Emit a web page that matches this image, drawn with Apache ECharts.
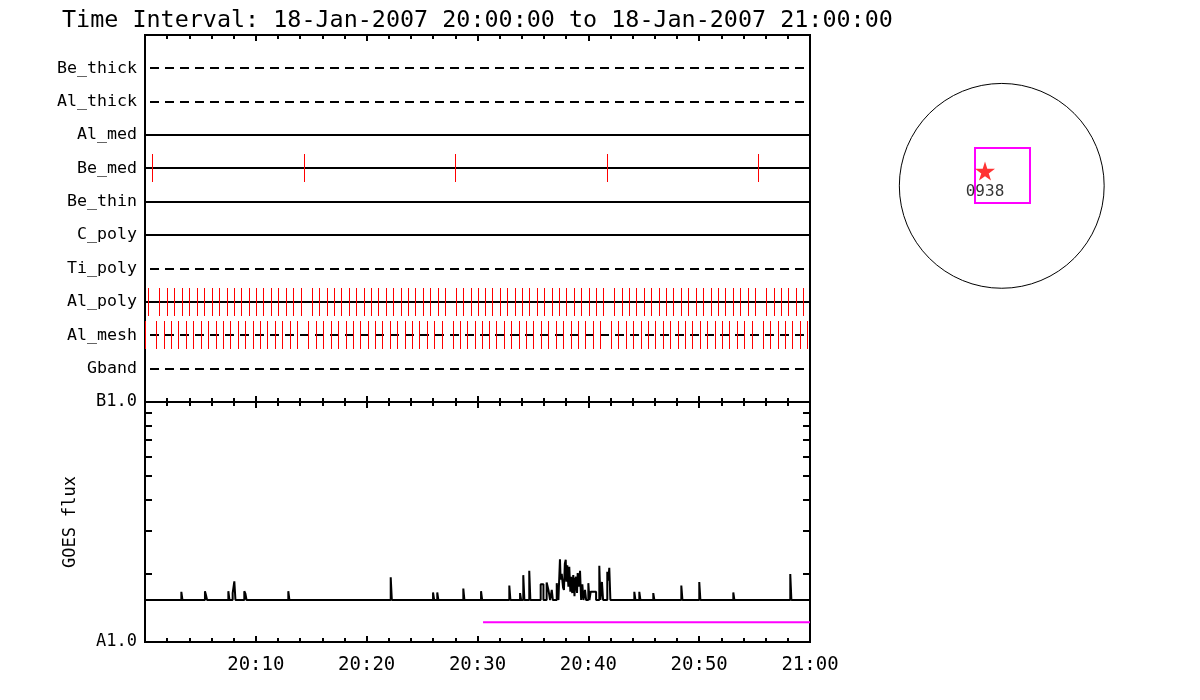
<!DOCTYPE html>
<html><head><meta charset="utf-8">
<script src="https://cdn.jsdelivr.net/npm/echarts@6/dist/echarts.min.js"></script>
<style>html,body{margin:0;padding:0;background:#fff}#c{width:1200px;height:700px}</style>
</head><body><div id="c"></div>
<script>
// ---------------- data ----------------
const titleText = 'Time Interval: 18-Jan-2007 20:00:00 to 18-Jan-2007 21:00:00';
const rowNames = ['Be_thick','Al_thick','Al_med','Be_med','Be_thin','C_poly','Ti_poly','Al_poly','Al_mesh','Gband'];
const rowDashed = [true,true,false,false,false,false,true,false,true,true];
// minutes after 20:00
const beMedTimes = [0.63,14.35,27.97,41.68,55.31];
const alPolyTimes = [0.30,1.29,2.01,2.64,3.31,4.00,4.66,5.35,6.02,6.68,7.37,8.00,8.66,9.35,10.02,10.67,11.34,12.00,12.70,13.35,14.05,
  15.04,15.70,16.39,17.05,17.71,18.41,19.07,19.73,20.39,21.05,21.72,22.40,23.07,23.73,24.39,25.06,25.72,26.41,27.07,
  28.07,28.73,29.39,30.07,30.68,31.34,32.00,32.69,33.36,34.02,34.67,35.34,36.00,36.70,37.35,38.01,38.71,39.37,40.03,40.69,41.35,
  42.34,43.01,43.67,44.33,45.02,45.68,46.35,47.01,47.67,48.36,49.02,49.69,50.37,51.04,51.70,52.36,53.03,53.71,54.38,55.07,
  56.06,56.73,57.38,58.04,58.71,59.40];
const alMeshTimes = [0.00,0.99,1.71,2.34,3.01,3.70,4.36,5.05,5.72,6.38,7.07,7.70,8.36,9.05,9.72,10.37,11.04,11.70,12.40,13.05,13.75,
  14.74,15.40,16.09,16.75,17.41,18.11,18.77,19.43,20.09,20.75,21.42,22.10,22.77,23.43,24.09,24.76,25.42,26.11,26.77,
  27.77,28.43,29.09,29.77,30.38,31.04,31.70,32.39,33.06,33.72,34.37,35.04,35.70,36.40,37.05,37.71,38.41,39.07,39.73,40.39,41.05,
  42.04,42.71,43.37,44.03,44.72,45.38,46.05,46.71,47.37,48.06,48.72,49.39,50.07,50.74,51.40,52.06,52.73,53.41,54.08,54.77,
  55.76,56.43,57.08,57.74,58.41,59.10,59.70];
const xTickValues = [0,10,20,30,40,50,60];
const xTickLabels = ['','20:10','20:20','20:30','20:40','20:50','21:00'];
const goesAxisMin = 1.058e-7;
const goesAxisMax = 1e-6;
const goesTickValues = [goesAxisMin, goesAxisMax];
const goesTickLabels = ['A1.0','B1.0'];
const goesMinorTicks = [2e-7,3e-7,4e-7,5e-7,6e-7,7e-7,8e-7,9e-7];
// GOES flux samples (W/m^2), each value holds until the next sample
const goesTime = [0,
  3.28,3.38, 5.41,5.50,5.60, 7.52,7.62, 7.91,8.06,8.16, 8.96,9.06,9.16, 12.93,13.03,
  22.17,22.27, 25.99,26.09, 26.37,26.47, 28.72,28.82, 30.32,30.42, 32.87,32.97,
  33.84,33.94, 34.13,34.23, 34.67,34.77,
  35.70,35.95, 36.24,36.40,36.55, 36.70,36.80, 37.15,37.30,
  37.44,37.50,37.55,37.60,37.65,37.72,37.80,37.88,37.96,38.02,38.05,38.10,38.15,38.20,38.28,38.33,38.38,38.44,38.50,38.55,38.64,38.70,38.75,38.82,38.89,38.94,38.98,39.04,39.10,39.15,39.25,39.35,
  39.46,39.56, 39.70,39.80, 40.00,40.10, 40.21,40.70, 40.99,41.09, 41.23,41.33, 41.71,41.80,41.89,41.99,
  44.15,44.25, 44.60,44.70, 45.86,45.96, 48.39,48.49, 50.01,50.11, 53.08,53.18, 58.22,58.32, 60];
const goesFlux = [1.567e-7,
  1.693e-7,1.567e-7, 1.702e-7,1.642e-7,1.567e-7, 1.702e-7,1.567e-7, 1.673e-7,1.867e-7,1.567e-7, 1.702e-7,1.662e-7,1.567e-7, 1.702e-7,1.567e-7,
  1.938e-7,1.567e-7, 1.682e-7,1.567e-7, 1.682e-7,1.567e-7, 1.745e-7,1.567e-7, 1.702e-7,1.567e-7, 1.796e-7,1.567e-7,
  1.673e-7,1.567e-7, 1.978e-7,1.567e-7, 2.059e-7,1.567e-7,
  1.815e-7,1.567e-7, 1.846e-7,1.723e-7,1.567e-7, 1.723e-7,1.567e-7, 1.835e-7,1.567e-7,
  2.294e-7,1.900e-7,1.877e-7,2.000e-7,2.019e-7,1.760e-7,1.723e-7,2.200e-7,2.283e-7,1.860e-7,1.826e-7,2.170e-7,1.950e-7,1.776e-7,2.140e-7,1.900e-7,1.693e-7,1.947e-7,1.760e-7,1.673e-7,1.978e-7,1.800e-7,1.623e-7,1.900e-7,1.947e-7,1.760e-7,1.673e-7,2.019e-7,1.850e-7,1.776e-7,2.059e-7,1.567e-7,
  1.815e-7,1.567e-7, 1.723e-7,1.567e-7, 1.835e-7,1.567e-7, 1.693e-7,1.567e-7, 2.160e-7,1.567e-7, 1.856e-7,1.567e-7, 2.040e-7,1.877e-7,2.120e-7,1.567e-7,
  1.693e-7,1.567e-7, 1.693e-7,1.567e-7, 1.673e-7,1.567e-7, 1.796e-7,1.567e-7, 1.856e-7,1.567e-7, 1.682e-7,1.567e-7, 1.998e-7,1.567e-7, 1.567e-7];
const pinkTime = [30.5, 60];
const pinkFlux = [1.274e-7, 1.274e-7];
// solar disk (arcsec)
const diskCenter = [0, 0];
const diskRadius = 960;
const fovBox = [-253, -164, 265, 351]; // x1, y1, x2, y2
const arPos = [-157, 139];
const arLabel = '0938';

// ---------------- chart ----------------
const FONT = 'DejaVu Sans Mono';
const yCats = [''].concat(rowNames.slice().reverse(), ['']);
const tickStyle = {color:'#000', width:2};

function xAx(grid, pos, labels){
  return {gridIndex:grid, type:'value', min:0, max:60, interval:10, position:pos,
    axisLine:{show:false},
    axisTick:{show:true, inside:true, length:6, lineStyle:tickStyle},
    minorTick:{show:true, splitNumber:5, length:4, lineStyle:tickStyle},
    splitLine:{show:false}, minorSplitLine:{show:false},
    axisLabel: labels ? {show:true, margin:14, color:'#000', fontFamily:FONT, fontSize:19,
      showMinLabel:true, showMaxLabel:true,
      formatter:v => { const i = xTickValues.indexOf(v); return i >= 0 ? xTickLabels[i] : ''; }} : {show:false}
  };
}

const series = [];
// filter rows (crisp 2px lines)
series.push({type:'custom', xAxisIndex:0, yAxisIndex:0, silent:true, z:2,
  data: rowNames.map((n, i) => [0, n, i]),
  renderItem:(params, api) => {
    const p = api.coord([0, api.value(1)]);
    const q = api.coord([60, api.value(1)]);
    const y = Math.round(p[1]);
    const dashed = rowDashed[api.value(2)];
    return {type:'line', shape:{x1:p[0], y1:y, x2:q[0], y2:y},
      style:{stroke:'#000', lineWidth:2, lineDash: dashed ? [9,6] : null, lineDashOffset: dashed ? -5 : 0}};
  }});
function tickSeries(times, name){
  return {type:'custom', xAxisIndex:0, yAxisIndex:0, silent:true, z:3,
    data: times.map(t => [t, name]),
    renderItem:(params, api) => {
      const p = api.coord([api.value(0), api.value(1)]);
      const x = Math.round(p[0]) + 0.5, y = Math.round(p[1]);
      return {type:'line', shape:{x1:x, y1:y-14, x2:x, y2:y+14}, style:{stroke:'#ff0000', lineWidth:1}};
    }};
}
series.push(tickSeries(beMedTimes, 'Be_med'));
series.push(tickSeries(alPolyTimes, 'Al_poly'));
series.push(tickSeries(alMeshTimes, 'Al_mesh'));

series.push({type:'line', xAxisIndex:2, yAxisIndex:1, step:'end', symbol:'none', silent:true,
  lineStyle:{color:'#000', width:2}, data: goesTime.map((t,i) => [t, goesFlux[i]])});
series.push({type:'line', xAxisIndex:2, yAxisIndex:1, symbol:'none', silent:true,
  lineStyle:{color:'#ff00ff', width:2}, data: pinkTime.map((t,i) => [t, pinkFlux[i]])});
series.push({type:'custom', xAxisIndex:2, yAxisIndex:1, silent:true,
  data: goesMinorTicks.map(v => [0, v]),
  renderItem:(params, api) => {
    const p = api.coord([api.value(0), api.value(1)]);
    const xl = params.coordSys.x, xr = xl + params.coordSys.width;
    const y = Math.round(p[1]);
    return {type:'group', children:[
      {type:'line', shape:{x1:xl, y1:y, x2:xl+7, y2:y}, style:{stroke:'#000', lineWidth:2}},
      {type:'line', shape:{x1:xr-7, y1:y, x2:xr, y2:y}, style:{stroke:'#000', lineWidth:2}}
    ]};
  }});

// disk
series.push({type:'custom', xAxisIndex:4, yAxisIndex:2, silent:true,
  data:[[diskCenter[0], diskCenter[1], diskRadius]],
  renderItem:(params, api) => {
    const c = api.coord([api.value(0), api.value(1)]);
    const r = api.size([api.value(2), 0])[0];
    return {type:'circle', shape:{cx:c[0], cy:c[1], r:r}, style:{fill:'none', stroke:'#000', lineWidth:1}};
  }});
series.push({type:'custom', xAxisIndex:4, yAxisIndex:2, silent:true,
  data:[fovBox],
  renderItem:(params, api) => {
    const a = api.coord([api.value(0), api.value(3)]);
    const b = api.coord([api.value(2), api.value(1)]);
    return {type:'rect', shape:{x:Math.round(a[0]), y:Math.round(a[1]), width:Math.round(b[0]-a[0]), height:Math.round(b[1]-a[1])},
      style:{fill:'none', stroke:'#ff00ff', lineWidth:2}};
  }});
series.push({type:'scatter', xAxisIndex:4, yAxisIndex:2, silent:true,
  symbol:'path://M50,0 L61,35 L98,35 L68,57 L79,91 L50,70 L21,91 L32,57 L2,35 L39,35 Z',
  symbolSize:[20,19], itemStyle:{color:'#ff0000'},
  data:[{value:arPos, name:arLabel}],
  label:{show:true, position:'bottom', distance:3, formatter:'{b}', color:'#000', fontFamily:FONT, fontSize:16}});

const option = {
  backgroundColor:'#fff',
  animation:false,
  title:{text:titleText, left:57, top:4, textStyle:{color:'#000', fontFamily:FONT, fontSize:23.4, fontWeight:'normal'}},
  grid:[
    {left:145, top:35, width:665, height:367, show:true, borderColor:'#000', borderWidth:2, backgroundColor:'transparent'},
    {left:145, top:402, width:665, height:240, show:true, borderColor:'#000', borderWidth:2, backgroundColor:'transparent'},
    {left:884.4, top:68.5, width:234.7, height:234.7}
  ],
  xAxis:[
    xAx(0,'bottom',false), xAx(0,'top',false), xAx(1,'bottom',true), xAx(1,'top',false),
    {gridIndex:2, type:'value', min:-1100, max:1100, show:false}
  ],
  yAxis:[
    {gridIndex:0, type:'category', data:yCats, boundaryGap:false,
      axisLine:{show:false}, axisTick:{show:false}, splitLine:{show:false},
      axisLabel:{color:'#000', fontFamily:FONT, fontSize:16.6, margin:8, interval:0}},
    {gridIndex:1, type:'log', logBase:10, min:goesAxisMin, max:goesAxisMax,
      axisLine:{show:false}, axisTick:{show:false}, splitLine:{show:false}, minorTick:{show:false},
      axisLabel:{color:'#000', fontFamily:FONT, fontSize:17, margin:8, showMinLabel:true, showMaxLabel:true,
        formatter:v => { const i = goesTickValues.findIndex(g => Math.abs(Math.log10(g) - Math.log10(v)) < 1e-3); return i >= 0 ? goesTickLabels[i] : ''; }},
      name:'GOES flux', nameLocation:'middle', nameGap:66,
      nameTextStyle:{color:'#000', fontFamily:FONT, fontSize:17}},
    {gridIndex:2, type:'value', min:-1100, max:1100, show:false}
  ],
  series: series
};
const chart = echarts.init(document.getElementById('c'), null, {renderer:'canvas'});
chart.setOption(option);
</script></body></html>
